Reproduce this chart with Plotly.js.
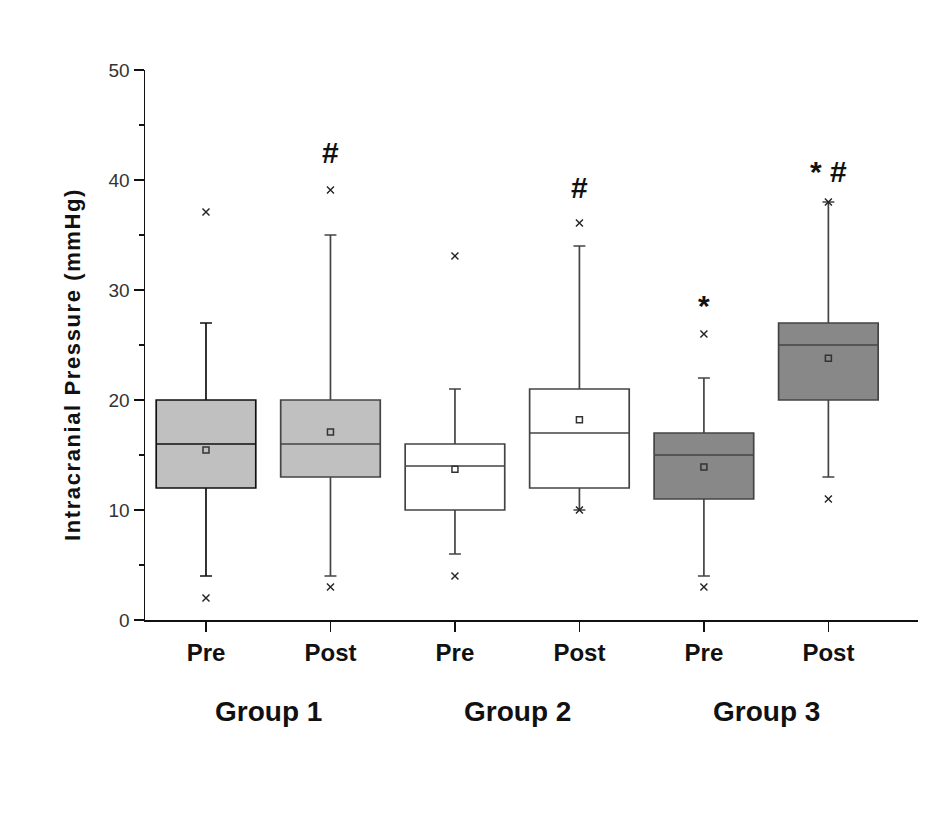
<!DOCTYPE html>
<html>
<head>
<meta charset="utf-8">
<script src="https://cdn.plot.ly/plotly-3.0.1.min.js"></script>
<style>html,body{margin:0;padding:0;background:#fff;}#chart{width:945px;height:831px;}</style>
</head>
<body>
<div id="chart"></div>
<script>
// Box positions / labels
const positions = [1, 2, 3, 4, 5, 6];
const tickLabels = ["Pre", "Post", "Pre", "Post", "Pre", "Post"];
const groupNames = ["Group 1", "Group 2", "Group 3"];
const groupCenters = [1.5, 3.5, 5.5];

// Box statistics (mmHg)
const q1Values      = [12, 13, 10, 12, 11, 20];
const medianValues  = [16, 16, 14, 17, 15, 25];
const q3Values      = [20, 20, 16, 21, 17, 27];
const lowerWhisker  = [4, 4, 6, 10, 4, 13];
const upperWhisker  = [27, 35, 21, 34, 22, 38];
const meanValues    = [15.45, 17.1, 13.7, 18.2, 13.9, 23.8];
const outlierHigh   = [37.1, 39.1, 33.1, 36.1, 26, 38];
const outlierLow    = [2, 3, 4, 10, 3, 11];

// Significance marks
const sigText = ["#", "#", "*", "* #"];
const sigX    = [2, 4, 5, 6];
const sigY    = [42.5, 39.3, 28.6, 40.8];

const fills = ["#c0c0c0", "#c0c0c0", "#ffffff", "#ffffff", "#888888", "#888888"];
const lines = ["#111111", "#444444", "#444444", "#444444", "#444444", "#444444"];

const FONT = "Liberation Sans, Arial, sans-serif";

const traces = [];
positions.forEach((p, i) => {
  traces.push({
    type: "box",
    x: [p],
    q1: [q1Values[i]],
    median: [medianValues[i]],
    q3: [q3Values[i]],
    lowerfence: [lowerWhisker[i]],
    upperfence: [upperWhisker[i]],
    width: 0.8,
    whiskerwidth: 0.12,
    fillcolor: fills[i],
    line: {color: lines[i], width: 1.7},
    boxpoints: false,
    hoverinfo: "skip",
    showlegend: false
  });
});

traces.push({
  type: "scatter", mode: "markers",
  x: positions.concat(positions),
  y: outlierHigh.concat(outlierLow),
  marker: {symbol: "x-thin", size: 7, line: {color: "#222", width: 1.4}, color: "#222"},
  showlegend: false, hoverinfo: "skip", cliponaxis: false
});
traces.push({
  type: "scatter", mode: "markers",
  x: positions, y: meanValues,
  marker: {symbol: "square-open", size: 6, color: "#333", line: {color: "#333", width: 1.5}},
  showlegend: false, hoverinfo: "skip"
});

const annotations = [];
groupNames.forEach((g, i) => annotations.push({
  text: g, x: groupCenters[i], y: -0.1655, xref: "x", yref: "paper",
  xanchor: "center", yanchor: "middle", showarrow: false,
  font: {family: FONT, size: 28, weight: "bold", color: "#111"}
}));
sigText.forEach((s, i) => annotations.push({
  text: s, x: sigX[i], y: sigY[i], xref: "x", yref: "y",
  xanchor: "center", yanchor: "middle", showarrow: false,
  font: {family: FONT, size: 30, weight: "bold", color: "#111"}
}));
annotations.push({
  text: "Intracranial Pressure (mmHg)", textangle: -90,
  x: -0.095, y: 0.4636, xref: "paper", yref: "paper",
  xanchor: "center", yanchor: "middle", showarrow: false,
  font: {family: FONT, size: 22, weight: "bold", color: "#111"}
});

const layout = {
  width: 945, height: 831,
  margin: {l: 145, r: 27, t: 70, b: 211},
  paper_bgcolor: "#fff", plot_bgcolor: "#fff",
  boxmode: "overlay",
  showlegend: false,
  font: {family: FONT, color: "#222"},
  xaxis: {
    range: [0.51, 6.72], tickvals: positions, ticktext: tickLabels,
    showgrid: false, zeroline: false, showline: true, linecolor: "#111", linewidth: 2,
    ticks: "outside", ticklen: 10, tickwidth: 1.5, tickcolor: "#111",
    tickfont: {family: FONT, size: 24, weight: "bold", color: "#111"}
  },
  yaxis: {
    range: [0, 50], tickvals: [0, 10, 20, 30, 40, 50],
    showgrid: false, zeroline: false, showline: true, linecolor: "#111", linewidth: 1.5,
    ticks: "outside", ticklen: 10, tickwidth: 1.5, tickcolor: "#111",
    tickfont: {family: FONT, size: 19, color: "#333"},
    minor: {dtick: 5, ticks: "outside", ticklen: 5, tickwidth: 1.5, tickcolor: "#111", showgrid: false}
  },
  annotations: annotations
};

Plotly.newPlot("chart", traces, layout, {displayModeBar: false, staticPlot: true}).then(() => {
  document.querySelectorAll("#chart .annotation-text").forEach(t => {
    if (t.textContent.indexOf("Intracranial") === 0) t.style.letterSpacing = "1.6px";
  });
});
</script>
</body>
</html>
